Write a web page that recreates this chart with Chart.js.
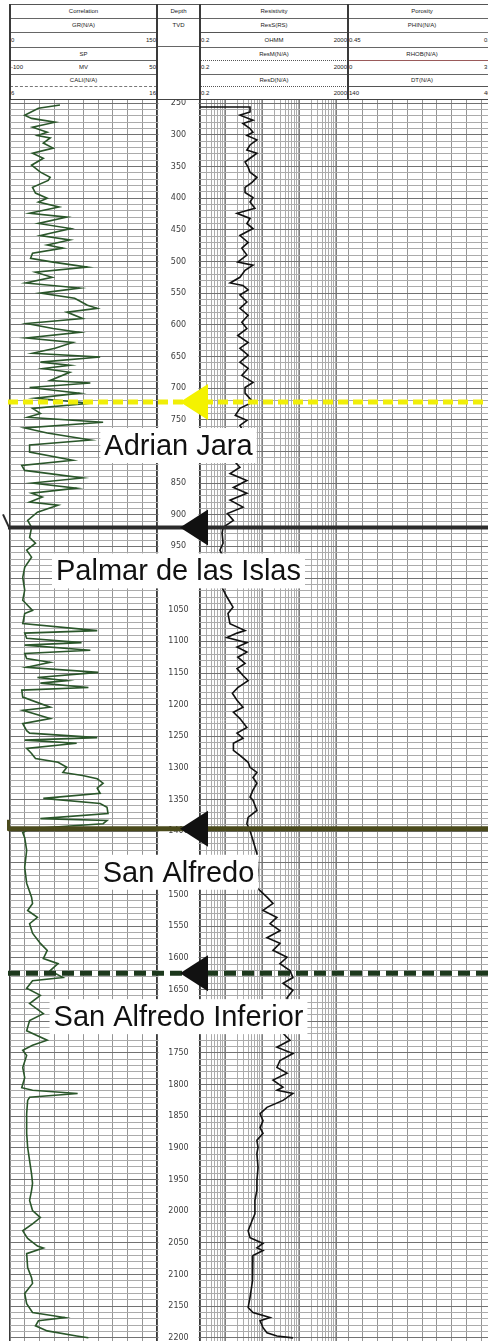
<!DOCTYPE html>
<html>
<head>
<meta charset="utf-8">
<script src="https://cdn.jsdelivr.net/npm/chart.js@4.4.1/dist/chart.umd.min.js"></script>
<style>
  html, body { margin: 0; padding: 0; background: #fff; }
  body { width: 488px; height: 1341px; overflow: hidden; position: relative; }
  #hdr { position: absolute; left: 0; top: 0; width: 496px; height: 100px; }
  #hdr div { position: absolute; }
  #hdr .t { font: 6px "Liberation Sans", Arial, sans-serif; color: #1a1a1a; white-space: nowrap; line-height: 7px; }
  #plot { position: absolute; left: 0; top: 100px; width: 496px; height: 1241px; }
</style>
</head>
<body>
<div id="hdr"></div>
<div id="plot"><canvas id="log" width="496" height="1241"></canvas></div>
<script>
// Gamma ray (API) against true vertical depth (m)
const grDepth = [253,258,269,274,280,288,296,301,305,313, 321,329,337,348,359,367,372,383,392,400,
  406,414,424,430,440,448,459,466,474,479, 487,495,501,509,517,525,534,542,550,558,
  569,574,580,590,598,606,612,621,628,637, 645,651,659,664,669,675,688,692,699,708,
  716,724,732,740,746,754,763,771,782,790, 801,814,822,830,842,850,858,866,872,880,
  885,896,909,920,936,945,956,967,983,999, 1019,1035,1051,1056,1072,1083,1087,1095,1102,1106,
  1114,1119,1127,1133,1141,1149,1157,1162,1166,1173, 1177,1188,1204,1209,1222,1230,1241,1245,1252,1256,
  1261,1269,1277,1285,1291,1299,1307,1312,1317,1324, 1332,1340,1348,1356,1362,1372,1380,1383,1388,1396,
  1402,1410,1430,1457,1482,1504,1514,1525,1536,1546, 1561,1577,1588,1601,1609,1620,1631,1636,1648,1659,
  1672,1688,1699,1715,1730,1738,1746,1754,1773,1789, 1805,1809,1814,1820,1825,1846,1877,1899,1920,1941,
  1956,1967,1983,1999,2010,2020,2031,2043,2055,2058, 2067,2089,2105,2114,2130,2146,2160,2168,2173,2181,
  2189,2197,2200];
const grValue = [51,29,15,22,46,23,38,28,41,34, 44,23,34,22,31,41,39,23,26,38,
  29,50,20,58,29,62,31,61,38,54, 23,21,44,79,26,43,16,71,31,66,
  79,89,58,74,17,44,71,17,64,46, 23,92,31,61,34,61,41,82,20,71,
  26,82,23,31,18,95,15,38,82,20, 20,64,12,15,74,23,68,22,33,20,
  49,28,18,22,20,26,17,22,15,13, 15,13,23,15,13,89,15,17,73,15,
  82,15,17,41,17,90,28,58,31,80, 12,13,41,13,41,13,17,20,89,15,
  68,17,22,26,49,58,54,74,89,95, 89,92,34,92,99,100,31,99,95,20,
  13,15,17,15,17,22,23,18,28,20, 23,31,38,34,49,41,54,23,17,31,
  20,34,20,17,38,23,13,17,13,15, 12,23,69,20,18,17,17,18,20,22,
  23,22,20,23,31,23,13,18,28,34, 17,18,22,23,15,17,23,56,29,26,
  38,68,80];

// Shallow resistivity (ohm.m) against depth (m)
const resDepth = [256,256,264,269,277,282,290,296,301,308, 316,324,329,337,343,351,359,367,375,383,
  391,399,406,416,424,432,440,448,459,470, 479,490,501,506,514,525,534,538,545,553,
  564,574,585,596,606,617,628,637,648,659, 669,680,691,699,708,722,732,743,751,759,
  767,782,798,814,825,835,846,857,866,877, 888,898,909,920,929,945,956,972,988,1004,
  1015,1030,1046,1056,1072,1083,1087,1094,1102,1109, 1117,1125,1135,1143,1154,1162,1173,1182,1193,1204,
  1212,1222,1236,1245,1253,1261,1272,1280,1291,1299, 1307,1315,1324,1335,1346,1351,1367,1378,1388,1399,
  1414,1435,1462,1489,1504,1514,1525,1536,1546,1557, 1568,1577,1588,1599,1609,1620,1631,1640,1651,1663,
  1691,1719,1730,1741,1751,1762,1773,1782,1793,1804, 1809,1814,1825,1836,1846,1857,1868,1877,1888,1899,
  1909,1931,1952,1967,1983,2004,2015,2031,2042,2051, 2058,2062,2070,2083,2110,2136,2152,2160,2168,2173,
  2184,2192,2197,2200];
const resValue = [0.2,4.5,4.5,2.4,5.4,2.9,4.5,5.4,3.7,6.9, 4.5,3.7,6.9,4.5,3.3,4.0,4.5,6.9,5.1,3.3,
  3.3,5.4,4.5,6.1,2.0,4.5,3.7,5.4,2.4,4.0, 2.7,3.7,2.1,5.4,3.3,2.4,1.3,2.9,4.0,2.4,
  3.7,2.4,4.0,2.7,3.7,2.1,4.0,2.4,4.0,2.4, 4.0,2.7,5.4,3.3,3.3,5.4,2.4,1.8,3.7,2.4,
  2.9,2.0,2.4,1.6,2.4,1.3,3.7,1.6,3.7,1.3, 2.9,1.1,1.6,0.84,0.79,0.84,0.69,0.95,1.07,1.07,
  0.79,1.07,1.56,1.14,1.29,3.3,2.0,1.07,3.7,2.0, 3.7,2.1,3.3,2.0,2.9,4.0,2.1,1.5,2.0,2.9,
  1.6,2.4,3.7,2.0,2.9,1.6,1.6,2.4,4.0,4.5, 6.9,5.4,6.9,5.4,4.5,5.4,6.9,4.0,3.7,4.5,
  5.4,6.9,7.4,6.9,12.9,18.8,10.1,24,15.6,29, 12.9,29,18.8,45,29,54,65,35,65,45,
  45,35,54,24,65,29,24,45,18.8,35, 24,65,35,12.9,8.4,10.1,8.4,10.1,6.9,7.4,
  6.9,7.4,6.9,6.9,6.1,6.1,5.1,4.0,4.5,10.1, 6.9,10.1,5.4,5.4,5.1,4.5,4.0,5.4,15.6,8.4,
  10.1,12.9,24,65];

// Depth track labels
const depthLabels = [250,300,350,400,450,500,550,600,650,700,750,800,850,900,950,1000,
  1050,1100,1150,1200,1250,1300,1350,1400,1450,1500,1550,1600,1650,1700,1750,1800,
  1850,1900,1950,2000,2050,2100,2150,2200];

// Formation tops
const topNames  = ['Adrian Jara', 'Palmar de las Islas', 'San Alfredo', 'San Alfredo Inferior'];
const topDepths = [722, 920, 1396, 1624];
const topStyles = [
  { color: '#f0ee08', width: 5, dash: [10, 5], marker: '#f4f200' },
  { color: '#2c2c2c', width: 4, dash: [],      marker: '#111111', cap: 'hook' },
  { color: '#4a4a1c', width: 5, dash: [],      marker: '#111111', cap: 'tick' },
  { color: '#1c381c', width: 5, dash: [12, 6], marker: '#111111' }
];

// ---------- header table ----------
const H = document.getElementById('hdr');
function box(x, y, w, h, css) {
  const d = document.createElement('div');
  d.style.cssText = `left:${x}px;top:${y}px;width:${w}px;height:${h}px;${css || ''}`;
  H.appendChild(d);
}
function label(str, x, y, align) {
  const d = document.createElement('div');
  d.className = 't';
  d.textContent = str;
  const tx = align === 'center' ? '-50%' : align === 'right' ? '-100%' : '0';
  d.style.cssText = `left:${x}px;top:${y}px;transform:translate(${tx},-50%)`;
  H.appendChild(d);
}
const headerTracks = [
  { x: 10, w: 147, title: 'Correlation', curves: [
      { name: 'GR(N/A)',   lo: '0',    mid: '',     hi: '150',  sep: 'solid #666' },
      { name: 'SP',        lo: '-100', mid: 'MV',   hi: '50',   sep: 'solid #666' },
      { name: 'CALI(N/A)', lo: '6',    mid: '',     hi: '16',   sep: 'dashed #777' } ] },
  { x: 200, w: 148, title: 'Resistivity', curves: [
      { name: 'ResS(RS)',  lo: '0.2',  mid: 'OHMM', hi: '2000', sep: 'solid #555' },
      { name: 'ResM(N/A)', lo: '0.2',  mid: '',     hi: '2000', sep: 'dotted #555' },
      { name: 'ResD(N/A)', lo: '0.2',  mid: '',     hi: '2000', sep: 'dotted #555' } ] },
  { x: 348, w: 148, title: 'Porosity', hiAt: 484, curves: [
      { name: 'PHIN(N/A)', lo: '0.45', mid: '',     hi: '0.15', sep: 'solid #777' },
      { name: 'RHOB(N/A)', lo: '0',    mid: '',     hi: '3',    sep: 'solid #9a5a5a' },
      { name: 'DT(N/A)',   lo: '140',  mid: '',     hi: '40',   sep: 'solid #555' } ] }
];
const nameY = [25, 53.5, 80], scaleY = [39.5, 67, 92.5], sepY = [32, 60, 86];
headerTracks.forEach(t => {
  const cx = t.x + t.w / 2;
  box(t.x, 4, t.w, 0, 'border-top:1px solid #555');
  [18, 47, 74].forEach(y => box(t.x, y, t.w, 0, 'border-top:1px solid #666'));
  box(t.x, 99, t.w, 0, 'border-top:1px solid #444');
  label(t.title, cx, 11, 'center');
  t.curves.forEach((c, k) => {
    box(t.x, sepY[k], t.w, 0, 'border-top:1px ' + c.sep);
    label(c.name, cx, nameY[k], 'center');
    label(c.lo, t.x + 1, scaleY[k], 'left');
    if (c.mid) label(c.mid, cx, scaleY[k], 'center');
    if (t.hiAt) label(c.hi, t.hiAt, scaleY[k], 'left');
    else label(c.hi, t.x + t.w - 1, scaleY[k], 'right');
  });
});
// depth column header
box(157, 4, 43, 0, 'border-top:1px solid #555');
box(157, 18, 43, 0, 'border-top:1px solid #666');
box(157, 46, 43, 0, 'border-top:1px solid #666');
box(157, 99, 43, 0, 'border-top:1px solid #444');
label('Depth', 178.5, 11, 'center');
label('TVD', 178.5, 25, 'center');
[10, 157, 200, 348].forEach(x => box(x - 1, 4, 2, 96, 'background:#3a3a3a'));

// ---------- log plot ----------
const steps = (a, b, s) => { const r = []; for (let v = a; v <= b + 1e-9; v += s) r.push(+v.toFixed(4)); return r; };
const gridDepths = steps(250, 2200, 10);
const grGrid = steps(0, 150, 15);
const porGrid = steps(0.15, 0.45, 0.03);
const resGrid = [];
[0.1, 1, 10, 100, 1000].forEach(dec => { for (let m = 1; m <= 9; m++) { const v = +(m * dec).toPrecision(3); if (v >= 0.2 && v <= 2000) resGrid.push(v); } });

const edgeColor = '#3a3a3a';
const depthTrack = {
  id: 'depthTrack',
  beforeDatasetsDraw(chart) {
    const { ctx, chartArea, scales } = chart;
    const xd = scales.xDepth, y = scales.y;
    ctx.save();
    ctx.fillStyle = '#fff';
    ctx.fillRect(xd.left + 1.5, chartArea.top, xd.right - xd.left - 3, chartArea.bottom - chartArea.top);
    ctx.fillStyle = '#3c3c3c';
    ctx.font = '8px "DejaVu Sans", sans-serif';
    ctx.textAlign = 'center';
    ctx.textBaseline = 'middle';
    const cx = (xd.left + xd.right) / 2;
    depthLabels.forEach(v => ctx.fillText(String(v), cx, y.getPixelForValue(v)));
    ctx.restore();
  }
};

const formationTops = {
  id: 'formationTops',
  afterDatasetsDraw(chart) {
    const { ctx, scales, width } = chart;
    const xd = scales.xDepth, y = scales.y;
    topDepths.forEach((d, i) => {
      const st = topStyles[i];
      const py = y.getPixelForValue(d);
      ctx.save();
      ctx.strokeStyle = st.color;
      ctx.lineWidth = st.width;
      ctx.setLineDash(st.dash);
      ctx.beginPath();
      ctx.moveTo(8, py);
      ctx.lineTo(width, py);
      ctx.stroke();
      ctx.setLineDash([]);
      if (st.cap === 'hook') {
        ctx.lineWidth = 2;
        ctx.beginPath();
        ctx.moveTo(9, py);
        ctx.lineTo(3, py - 13);
        ctx.stroke();
      } else if (st.cap === 'tick') {
        ctx.fillStyle = st.color;
        ctx.fillRect(7, py - 9, 3, 11);
      }
      // marker triangle pointing into the depth track
      const tip = xd.left + 23, base = xd.right + 8;
      ctx.fillStyle = st.marker;
      ctx.beginPath();
      ctx.moveTo(tip, py);
      ctx.lineTo(base, py - 18);
      ctx.lineTo(base, py + 18);
      ctx.closePath();
      ctx.fill();
      // name plate
      ctx.font = '29px "Liberation Sans", Arial, sans-serif';
      const tw = ctx.measureText(topNames[i]).width;
      const cx = (xd.left + xd.right) / 2;
      const by = py + 53;
      ctx.fillStyle = '#fff';
      ctx.fillRect(cx - tw / 2 - 4, by - 27, tw + 8, 35);
      ctx.fillStyle = '#111';
      ctx.textAlign = 'center';
      ctx.textBaseline = 'alphabetic';
      ctx.fillText(topNames[i], cx, by);
      ctx.restore();
    });
  }
};

function isEdge(c, lo, hi) { return c.tick && (Math.abs(c.tick.value - lo) < 1e-6 || Math.abs(c.tick.value - hi) < 1e-6); }

new Chart(document.getElementById('log'), {
  type: 'scatter',
  data: {
    datasets: [
      { label: 'GR', data: grDepth.map((d, i) => ({ x: grValue[i], y: d })),
        xAxisID: 'xGR', yAxisID: 'y', showLine: true, borderColor: '#2a562a', borderWidth: 1.6,
        pointRadius: 0, tension: 0, fill: false },
      { label: 'ResS', data: resDepth.map((d, i) => ({ x: resValue[i], y: d })),
        xAxisID: 'xRes', yAxisID: 'y', showLine: true, borderColor: '#111', borderWidth: 1.6,
        pointRadius: 0, tension: 0, fill: false }
    ]
  },
  options: {
    responsive: false,
    animation: false,
    devicePixelRatio: 1,
    events: [],
    layout: { padding: { left: 10, right: 0, top: 0, bottom: 0 } },
    plugins: { legend: { display: false }, title: { display: false }, tooltip: { enabled: false } },
    scales: {
      xGR: {
        type: 'linear', position: 'top', stack: 'tracks', stackWeight: 147, weight: 4,
        min: 0, max: 150,
        afterBuildTicks: s => { s.ticks = grGrid.map(v => ({ value: v })); },
        ticks: { display: false }, border: { display: false },
        grid: { drawTicks: false, color: c => isEdge(c, 0, 150) ? edgeColor : '#959595',
                lineWidth: c => isEdge(c, 0, 150) ? 1.6 : 1 }
      },
      xDepth: {
        type: 'linear', position: 'top', stack: 'tracks', stackWeight: 43, weight: 3,
        min: 0, max: 1,
        afterBuildTicks: s => { s.ticks = [{ value: 0 }, { value: 1 }]; },
        ticks: { display: false }, border: { display: false },
        grid: { drawTicks: false, color: edgeColor, lineWidth: 1.6 }
      },
      xRes: {
        type: 'logarithmic', position: 'top', stack: 'tracks', stackWeight: 148, weight: 2,
        min: 0.2, max: 2000,
        afterBuildTicks: s => { s.ticks = resGrid.map(v => ({ value: v })); },
        ticks: { display: false }, border: { display: false },
        grid: { drawTicks: false,
                color: c => {
                  if (!c.tick) return '#aaa';
                  const v = c.tick.value;
                  if (v === 0.2) return edgeColor;
                  if (v === 2000) return '#6a6a6a';
                  return [1, 10, 100, 1000].includes(v) ? '#808080' : '#acacac';
                },
                lineWidth: c => c.tick && c.tick.value === 0.2 ? 1.6 : 1 }
      },
      xPor: {
        type: 'linear', position: 'top', stack: 'tracks', stackWeight: 148, weight: 1,
        min: 0.15, max: 0.45, reverse: true,
        afterBuildTicks: s => { s.ticks = porGrid.map(v => ({ value: v })); },
        ticks: { display: false }, border: { display: false },
        grid: { drawTicks: false, color: '#959595', lineWidth: 1 }
      },
      y: {
        type: 'linear', position: 'left', reverse: true, min: 245, max: 2205,
        afterBuildTicks: s => { s.ticks = gridDepths.map(v => ({ value: v })); },
        ticks: { display: false }, border: { display: false },
        grid: { drawTicks: false,
                color: c => c.tick && c.tick.value % 50 === 0 ? '#727272' : '#ababab',
                lineWidth: 1 }
      }
    }
  },
  plugins: [depthTrack, formationTops]
});
</script>
</body>
</html>
